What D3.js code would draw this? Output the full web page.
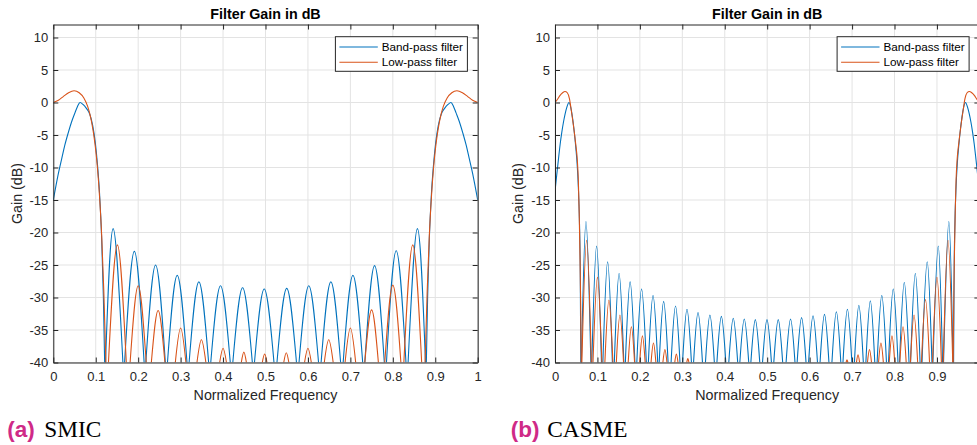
<!DOCTYPE html>
<html><head><meta charset="utf-8">
<script src="https://cdn.jsdelivr.net/npm/d3@7"></script>
<style>html,body{margin:0;padding:0;background:#fff;overflow:hidden}</style>
</head><body><svg id="c" width="977" height="445"></svg>
<script>
// ---------- DATA ----------
const xTicks = [0, 0.1, 0.2, 0.3, 0.4, 0.5, 0.6, 0.7, 0.8, 0.9, 1];
const xTickLabels = ["0", "0.1", "0.2", "0.3", "0.4", "0.5", "0.6", "0.7", "0.8", "0.9", "1"];
const yTicks = [-40, -35, -30, -25, -20, -15, -10, -5, 0, 5, 10];
const yTickLabels = ["-40", "-35", "-30", "-25", "-20", "-15", "-10", "-5", "0", "5", "10"];
const seriesNames = ["Band-pass filter", "Low-pass filter"];
const titleText = "Filter Gain in dB";
const xLabelText = "Normalized Frequency";
const yLabelText = "Gain (dB)";
const captionTags = ["(a)", "(b)"];
const captionNames = ["SMIC", "CASME"];

// SMIC main lobes: [normalized frequency, gain dB]
const smicBandMainLeft = [[0,-15],[0.006,-12.9],[0.012,-10.9],[0.02,-8.6],[0.027,-6.6],[0.035,-4.7],[0.044,-2.8],[0.051,-1.6],[0.057,-0.6],[0.063,0],[0.070,-0.3],[0.078,-0.9],[0.086,-1.8],[0.093,-3.6],[0.099,-6.2],[0.104,-9.5],[0.109,-14],[0.114,-21],[0.118,-30],[0.121,-40]];
const smicBandMainRight = [[0.879,-40],[0.882,-30],[0.886,-21],[0.891,-14],[0.896,-9.5],[0.901,-6.2],[0.907,-3.6],[0.914,-1.8],[0.922,-0.9],[0.930,-0.3],[0.937,0],[0.943,-0.6],[0.949,-1.6],[0.956,-2.8],[0.965,-4.7],[0.973,-6.6],[0.98,-8.6],[0.988,-10.9],[0.994,-12.9],[1,-15]];
const smicLowMainLeft = [[0,0],[0.012,0.35],[0.024,0.95],[0.036,1.5],[0.049,1.8],[0.061,1.5],[0.072,0.7],[0.081,-0.6],[0.088,-2.3],[0.094,-4.4],[0.099,-6.8],[0.104,-10],[0.109,-14.5],[0.114,-20.5],[0.119,-29],[0.124,-40]];
const smicLowMainRight = [[0.876,-40],[0.881,-29],[0.886,-20.5],[0.891,-14.5],[0.896,-10],[0.901,-6.8],[0.906,-4.4],[0.912,-2.3],[0.919,-0.6],[0.928,0.7],[0.939,1.5],[0.951,1.8],[0.964,1.5],[0.976,0.95],[0.988,0.35],[1,0]];
// SMIC side lobes: [enters at -40, peak freq, peak dB, leaves at -40]
const smicBandLobes = [[0.123,0.141,-19.4,0.164],[0.168,0.191,-22.9,0.214],[0.218,0.241,-25.0,0.264],[0.269,0.292,-26.6,0.315],[0.320,0.343,-27.6,0.366],[0.371,0.394,-28.2,0.417],[0.423,0.446,-28.5,0.469],[0.474,0.497,-28.7,0.520],[0.527,0.550,-28.6,0.573],[0.579,0.602,-28.2,0.625],[0.631,0.654,-27.6,0.677],[0.683,0.706,-26.6,0.729],[0.734,0.757,-25.1,0.780],[0.785,0.808,-22.8,0.831],[0.836,0.858,-19.4,0.877]];
const smicLowLobes = [[0.130,0.151,-21.9,0.172],[0.181,0.200,-28.2,0.219],[0.231,0.247,-32.0,0.263],[0.2875,0.300,-34.7,0.3125],[0.3385,0.349,-36.5,0.3595],[0.392,0.400,-37.8,0.408],[0.443,0.449,-38.4,0.455],[0.4925,0.498,-38.7,0.5035],[0.543,0.549,-38.5,0.555],[0.592,0.600,-37.8,0.608],[0.6385,0.649,-36.5,0.6595],[0.6875,0.700,-34.7,0.7125],[0.734,0.750,-31.9,0.766],[0.781,0.800,-28.1,0.819],[0.826,0.847,-21.9,0.868]];

// CASME main lobes
const casmeBandMainLeft = [[0,-13.7],[0.004,-11.2],[0.008,-8.8],[0.012,-6.5],[0.016,-4.6],[0.020,-3.0],[0.024,-1.7],[0.028,-0.7],[0.033,0],[0.037,-0.7],[0.041,-2.2],[0.045,-4.3],[0.049,-6.9],[0.052,-9.3],[0.055,-13],[0.0575,-18],[0.0595,-26],[0.0608,-40]];
const casmeBandMainRight = [[0.9392,-40],[0.9405,-26],[0.9425,-18],[0.945,-13],[0.948,-9.3],[0.951,-6.9],[0.955,-4.3],[0.959,-2.2],[0.963,-0.7],[0.967,0],[0.972,-0.7],[0.976,-1.7],[0.980,-3.0],[0.984,-4.6],[0.988,-6.5],[0.992,-8.8],[0.996,-11.2],[1,-13.7]];
const casmeLowMainLeft = [[0,0],[0.006,0.5],[0.012,1.1],[0.018,1.5],[0.0235,1.7],[0.029,1.5],[0.034,0.6],[0.039,-1.5],[0.044,-3.8],[0.049,-6.5],[0.0525,-8.8],[0.055,-12],[0.057,-17],[0.059,-24],[0.0605,-31],[0.0618,-40]];
const casmeLowMainRight = [[0.9382,-40],[0.9395,-31],[0.941,-24],[0.943,-17],[0.945,-12],[0.9475,-8.8],[0.951,-6.5],[0.956,-3.8],[0.961,-1.5],[0.966,0.6],[0.971,1.5],[0.9765,1.7],[0.982,1.5],[0.988,1.1],[0.994,0.5],[1,0]];
// CASME side lobes
const casmeBandLobes = [[0.0622,0.073,-18.3,0.0845],[0.0868,0.098,-22.1,0.1095],[0.1128,0.124,-24.5,0.1352],[0.1398,0.151,-26.3,0.1622],[0.1658,0.177,-27.6,0.1882],[0.1928,0.204,-28.7,0.2152],[0.2200,0.231,-29.7,0.2420],[0.2455,0.256,-30.6,0.2665],[0.2735,0.284,-31.3,0.2945],[0.3005,0.311,-31.8,0.3215],[0.3265,0.337,-32.3,0.3475],[0.3545,0.365,-32.7,0.3755],[0.3815,0.392,-32.9,0.4025],[0.4095,0.420,-33.2,0.4305],[0.4355,0.446,-33.3,0.4565],[0.4615,0.472,-33.4,0.4825],[0.4890,0.4995,-33.4,0.5100],[0.5155,0.526,-33.4,0.5365],[0.5445,0.555,-33.3,0.5655],[0.5705,0.581,-33.1,0.5915],[0.5975,0.608,-32.8,0.6185],[0.6245,0.635,-32.6,0.6455],[0.6525,0.663,-32.2,0.6735],[0.6785,0.689,-31.8,0.6995],[0.7055,0.716,-31.2,0.7265],[0.7325,0.743,-30.5,0.7535],[0.7590,0.770,-29.7,0.7810],[0.7858,0.797,-28.7,0.8082],[0.8118,0.823,-27.7,0.8342],[0.8378,0.849,-26.3,0.8602],[0.8648,0.877,-24.5,0.8882],[0.8905,0.903,-22.1,0.9132],[0.9155,0.928,-18.3,0.9378]];
const casmeLowLobes = [[0.0633,0.0745,-21.2,0.0857],[0.0895,0.100,-26.9,0.1105],[0.1175,0.127,-30.4,0.1365],[0.1445,0.153,-32.7,0.1615],[0.1725,0.180,-34.5,0.1875],[0.1995,0.206,-35.9,0.2125],[0.2263,0.232,-37.0,0.2377],[0.2542,0.259,-38.0,0.2638],[0.2822,0.286,-38.7,0.2898],[0.3104,0.313,-39.4,0.3156],[0.6858,0.688,-39.6,0.6902],[0.7103,0.714,-38.8,0.7177],[0.7362,0.741,-38.0,0.7458],[0.7623,0.768,-37.0,0.7737],[0.7875,0.794,-35.9,0.8005],[0.8125,0.820,-34.5,0.8275],[0.8375,0.846,-32.7,0.8545],[0.8635,0.873,-30.3,0.8825],[0.8895,0.900,-26.9,0.9105],[0.9148,0.926,-21.2,0.9372]];

// ---------- DRAWING ----------
const W = 977;
const svg = d3.select("#c");
const FONT = "'Liberation Sans', Arial, Helvetica, sans-serif";
const SERIF = "'Liberation Serif', 'Times New Roman', serif";
const AX = "#262626";
const BLUE = "#0072BD", RED = "#D95319";

const panels = [
  {x0: 53.3, x1: 477.7, bandMain: [smicBandMainLeft, smicBandMainRight], lowMain: [smicLowMainLeft, smicLowMainRight], bandLobes: smicBandLobes, lowLobes: smicLowLobes, cap: 0, tagX: 7.3, nameX: 44.3},
  {x0: 555, x1: 979.4, bandMain: [casmeBandMainLeft, casmeBandMainRight], lowMain: [casmeLowMainLeft, casmeLowMainRight], bandLobes: casmeBandLobes, lowLobes: casmeLowLobes, cap: 1, tagX: 510.7, nameX: 547.3}
];
const yTop = 24.5, yBot = 362.5;

panels.forEach((p, pi) => {
  const x = d3.scaleLinear().domain([0, 1]).range([p.x0, p.x1]);
  const y = d3.scaleLinear().domain([-40, 12]).range([yBot, yTop]);
  const g = svg.append("g");

  // grid
  g.append("g").selectAll("line").data(xTicks).join("line")
    .attr("x1", d => x(d)).attr("x2", d => x(d)).attr("y1", yTop).attr("y2", yBot)
    .attr("stroke", "#e3e3e3").attr("stroke-width", 1);
  g.append("g").selectAll("line").data(yTicks).join("line")
    .attr("x1", p.x0).attr("x2", p.x1).attr("y1", d => y(d)).attr("y2", d => y(d))
    .attr("stroke", "#e3e3e3").attr("stroke-width", 1);

  const clipId = "clip" + pi;
  svg.append("clipPath").attr("id", clipId).append("rect")
    .attr("x", p.x0).attr("y", yTop).attr("width", p.x1 - p.x0).attr("height", yBot - yTop);
  const plot = g.append("g").attr("clip-path", `url(#${clipId})`);

  const mainLine = d3.line().x(d => x(d[0])).y(d => y(d[1])).curve(d3.curveMonotoneX);
  const lobeLine = d3.line().x(d => x(d[0])).y(d => y(d[1])).curve(d3.curveNatural);
  const lobePts = l => [[l[0], -40], [l[1], l[2]], [l[3], -40]];

  const drawSeries = (mains, lobes, color) => {
    mains.forEach(m => plot.append("path").attr("d", mainLine(m))
      .attr("fill", "none").attr("stroke", color).attr("stroke-width", 1.1));
    lobes.forEach(l => plot.append("path").attr("d", lobeLine(lobePts(l)))
      .attr("fill", "none").attr("stroke", color).attr("stroke-width", 1.1));
  };
  drawSeries(p.bandMain, p.bandLobes, BLUE);
  drawSeries(p.lowMain, p.lowLobes, RED);

  // axes
  const styleAxis = sel => {
    sel.selectAll("path,line").attr("stroke", AX).attr("stroke-width", 1);
    sel.selectAll("text").attr("fill", AX).attr("font-family", FONT).attr("font-size", "13px");
  };
  g.append("g").attr("transform", `translate(0,${yBot})`)
    .call(d3.axisBottom(x).tickValues(xTicks).tickFormat((d, i) => x(d) + 4 > W ? "" : xTickLabels[i]).tickSizeInner(-5).tickSizeOuter(0).tickPadding(9.3))
    .call(styleAxis);
  g.append("g").attr("transform", `translate(0,${yTop})`)
    .call(d3.axisTop(x).tickValues(xTicks).tickFormat("").tickSizeInner(-5).tickSizeOuter(0))
    .call(styleAxis);
  g.append("g").attr("transform", `translate(${p.x0},0)`)
    .call(d3.axisLeft(y).tickValues(yTicks).tickFormat((d, i) => yTickLabels[i]).tickSizeInner(-5).tickSizeOuter(0).tickPadding(5))
    .call(styleAxis);
  g.append("g").attr("transform", `translate(${p.x1},0)`)
    .call(d3.axisRight(y).tickValues(yTicks).tickFormat("").tickSizeInner(-5).tickSizeOuter(0))
    .call(styleAxis);

  // title & labels
  const cx = (p.x0 + p.x1) / 2;
  g.append("text").attr("x", cx).attr("y", 18.7).attr("text-anchor", "middle")
    .attr("font-family", FONT).attr("font-size", "14.3px").attr("font-weight", "bold").attr("fill", "#000")
    .text(titleText);
  g.append("text").attr("x", cx).attr("y", 399.5).attr("text-anchor", "middle")
    .attr("font-family", FONT).attr("font-size", "14.3px").attr("fill", AX).text(xLabelText);
  g.append("text").attr("transform", `translate(${p.x0 - 31.8},${(yTop + yBot) / 2}) rotate(-90)`)
    .attr("text-anchor", "middle").attr("font-family", FONT).attr("font-size", "14.3px").attr("fill", AX)
    .text(yLabelText);

  // legend
  const lx = p.x1 - 10.3 - 132, ly = 36.7;
  const lg = g.append("g");
  lg.append("rect").attr("x", lx).attr("y", ly).attr("width", 132).attr("height", 34.6)
    .attr("fill", "#fff").attr("stroke", AX).attr("stroke-width", 1);
  seriesNames.forEach((name, i) => {
    const yy = ly + 10.3 + i * 15.3;
    lg.append("line").attr("x1", lx + 4).attr("x2", lx + 42.4).attr("y1", yy).attr("y2", yy)
      .attr("stroke", i === 0 ? BLUE : RED).attr("stroke-width", 1.1);
    lg.append("text").attr("x", lx + 46.4).attr("y", yy + 4.1)
      .attr("font-family", FONT).attr("font-size", "11.7px").attr("fill", "#000").text(name);
  });

  // caption
  svg.append("text").attr("x", p.tagX).attr("y", 437).attr("font-size", "22.5px")
    .attr("font-family", FONT).attr("font-weight", "bold").attr("fill", "#cf2a87").text(captionTags[p.cap]);
  svg.append("text").attr("x", p.nameX).attr("y", 437).attr("font-size", "23.3px")
    .attr("font-family", SERIF).attr("fill", "#000").text(captionNames[p.cap]);
});
</script></body></html>
